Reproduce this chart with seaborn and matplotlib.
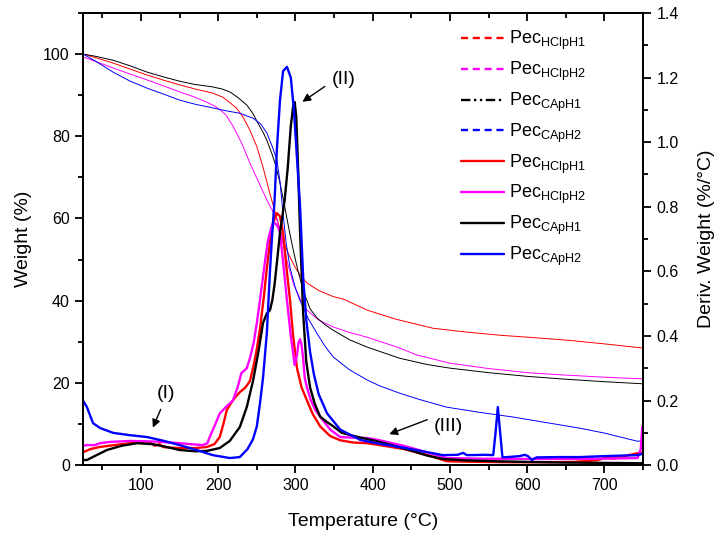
"""TGA / DTG curves of the four pectin samples."""

import matplotlib

matplotlib.use("Agg")
import matplotlib.pyplot as plt
import numpy as np
import pandas as pd
import seaborn as sns
from matplotlib.lines import Line2D
from matplotlib.ticker import MultipleLocator

# --- weight loss curves (TGA), weight in % ---
tga_black_t = [25, 40, 64, 85, 108, 130, 150, 170, 193, 205, 215, 225, 237, 245, 252, 258, 263, 270, 275,
               280, 286, 292, 297, 303, 310, 319, 328, 338, 349, 370, 393, 435, 470, 500, 550, 600, 650, 700, 749]
tga_black_w = [100, 99.5, 98.5, 97.2, 95.6, 94.4, 93.4, 92.6, 92, 91.5, 90.8, 89.5, 87.6, 85.5, 83, 81, 79,
               75.5, 72.5, 68.6, 63, 57, 52.5, 47.5, 42.5, 38, 35.8, 34.2, 32.8, 30.5, 28.7, 26, 24.5, 23.6,
               22.5, 21.6, 20.9, 20.3, 19.8]

tga_red_t = [25, 40, 64, 85, 108, 130, 150, 170, 193, 206, 215, 224, 232, 241, 250, 258, 267, 276, 285, 293,
             300, 307, 315, 330, 349, 362, 393, 430, 478, 520, 565, 610, 652, 700, 749]
tga_red_w = [100, 99.2, 97.8, 96.4, 94.9, 93.6, 92.5, 91.5, 90.5, 89.5, 88.2, 86.8, 84.7, 81.5, 77.5, 72.5,
             66, 60, 54, 50.6, 48, 46, 44.3, 42.5, 41, 40.4, 37.7, 35.5, 33.3, 32.4, 31.6, 31, 30.4, 29.5, 28.5]

tga_mag_t = [25, 40, 64, 85, 108, 130, 150, 170, 185, 195, 202, 210, 219, 230, 241, 252, 263, 270, 276, 282,
             290, 297, 306, 315, 330, 349, 370, 393, 435, 457, 500, 550, 600, 650, 700, 749]
tga_mag_w = [99.3, 98.3, 96.6, 95.2, 93.7, 92.2, 90.8, 89.5, 88.3, 87.4, 86.5, 85.2, 82.5, 78.5, 73.5, 69,
             64.5, 62, 59.6, 55.5, 49, 44.3, 40.5, 37.7, 35.3, 33.6, 32.3, 31.1, 28.5, 26.8, 24.8, 23.5, 22.5,
             21.9, 21.4, 21]

tga_blue_t = [25, 40, 64, 85, 108, 130, 150, 170, 193, 210, 228, 245, 255, 263, 270, 276, 280, 284, 288, 293,
              300, 306, 317, 328, 338, 349, 370, 393, 409, 435, 460, 496, 540, 582, 620, 668, 700, 743, 749]
tga_blue_w = [100, 98.4, 95.6, 93.5, 91.7, 90.2, 88.8, 87.8, 86.9, 86.2, 85.6, 84.4, 83, 80.8, 77.5, 74.2,
              69, 61, 54, 48, 43, 40, 35.5, 32, 29, 26.3, 23.2, 20.7, 19.3, 17.5, 16, 14.1, 12.8, 11.7, 10.5,
              9, 7.8, 5.8, 6.0]

# --- derivative curves (DTG), %/°C ---
dtg_red_t = [25, 35, 46, 65, 86, 100, 108, 112, 118, 124, 129, 140, 150, 170, 185, 195, 202, 207, 211, 216,
             222, 228, 235, 241, 246, 250, 254, 259, 263, 267, 271, 276, 280, 284, 288, 293, 297, 302, 308,
             315, 322, 332, 345, 358, 375, 393, 409, 440, 470, 496, 540, 580, 626, 660, 690, 705, 711, 725,
             743, 749]
dtg_red_v = [0.04, 0.05, 0.056, 0.062, 0.068, 0.07, 0.066, 0.07, 0.06, 0.065, 0.056, 0.054, 0.053, 0.053,
             0.056, 0.065, 0.087, 0.13, 0.17, 0.19, 0.21, 0.226, 0.24, 0.26, 0.31, 0.36, 0.42, 0.52, 0.61,
             0.69, 0.75, 0.78, 0.77, 0.72, 0.62, 0.51, 0.40, 0.30, 0.24, 0.20, 0.16, 0.12, 0.09, 0.077, 0.07,
             0.068, 0.062, 0.05, 0.032, 0.012, 0.01, 0.009, 0.009, 0.01, 0.015, 0.025, 0.02, 0.028, 0.037, 0.04]

dtg_mag_t = [25, 30, 40, 47, 60, 86, 120, 150, 180, 186, 189, 195, 202, 210, 219, 225, 230, 237, 241, 246,
             250, 254, 260, 264, 267, 270, 273, 277, 280, 284, 289, 294, 299, 302, 304, 306, 308, 310, 312,
             315, 320, 326, 332, 345, 358, 375, 393, 409, 440, 470, 496, 540, 626, 700, 743, 747, 749]
dtg_mag_v = [0.06, 0.062, 0.062, 0.068, 0.072, 0.075, 0.073, 0.068, 0.062, 0.068, 0.087, 0.12, 0.16, 0.18,
             0.2, 0.24, 0.285, 0.30, 0.33, 0.38, 0.44, 0.51, 0.62, 0.69, 0.72, 0.745, 0.75, 0.74, 0.72, 0.63,
             0.51, 0.40, 0.31, 0.34, 0.38, 0.39, 0.37, 0.33, 0.27, 0.24, 0.20, 0.17, 0.15, 0.11, 0.087, 0.085,
             0.084, 0.077, 0.06, 0.04, 0.022, 0.02, 0.019, 0.02, 0.022, 0.05, 0.12]

dtg_black_t = [25, 30, 40, 56, 75, 95, 115, 130, 150, 170, 185, 202, 215, 228, 237, 245, 252, 258, 263, 267,
               270, 273, 277, 280, 286, 290, 294, 297, 299, 301, 303, 306, 310, 314, 319, 325, 332, 340, 349,
               360, 371, 385, 400, 425, 450, 470, 491, 520, 560, 600, 650, 700, 743, 749]
dtg_black_v = [0.016, 0.016, 0.028, 0.047, 0.06, 0.068, 0.065, 0.058, 0.047, 0.043, 0.044, 0.053, 0.075,
               0.118, 0.18, 0.26, 0.35, 0.44, 0.47, 0.48, 0.51, 0.56, 0.65, 0.72, 0.82, 0.92, 1.05, 1.11, 1.124,
               1.08, 0.95, 0.72, 0.47, 0.32, 0.24, 0.19, 0.15, 0.135, 0.12, 0.10, 0.093, 0.085, 0.077, 0.062,
               0.045, 0.03, 0.019, 0.015, 0.012, 0.01, 0.008, 0.007, 0.006, 0.006]

dtg_blue_t = [25, 30, 38, 47, 64, 85, 108, 130, 150, 172, 193, 215, 228, 238, 245, 250, 254, 258, 263, 267,
              270, 273, 276, 280, 284, 289, 294, 298, 302, 306, 310, 314, 319, 324, 330, 341, 358, 384, 409,
              435, 460, 491, 510, 517, 522, 545, 556, 559, 562, 565, 568, 580, 590, 597, 601, 606, 612, 640,
              668, 700, 743, 749]
dtg_blue_v = [0.20, 0.18, 0.13, 0.115, 0.10, 0.093, 0.087, 0.075, 0.062, 0.047, 0.031, 0.022, 0.025, 0.05,
              0.08, 0.12, 0.19, 0.27, 0.41, 0.60, 0.72, 0.82, 0.98, 1.13, 1.22, 1.233, 1.20, 1.10, 0.95, 0.80,
              0.58, 0.45, 0.35, 0.28, 0.22, 0.16, 0.11, 0.078, 0.066, 0.056, 0.045, 0.031, 0.032, 0.038, 0.031,
              0.032, 0.031, 0.10, 0.18, 0.10, 0.024, 0.026, 0.028, 0.032, 0.028, 0.016, 0.024, 0.025, 0.025,
              0.028, 0.031, 0.035]

labels = ["Pec$_{\\mathrm{HClpH1}}$", "Pec$_{\\mathrm{HClpH2}}$",
          "Pec$_{\\mathrm{CApH1}}$", "Pec$_{\\mathrm{CApH2}}$"]
colors = ["#ff0000", "#ff00ff", "#000000", "#0000ff"]

sns.set_style("ticks")
plt.rcParams["font.family"] = ["Liberation Sans", "DejaVu Sans"]
plt.rcParams["mathtext.fontset"] = "custom"
plt.rcParams["mathtext.rm"] = "Liberation Sans"
plt.rcParams["mathtext.it"] = "Liberation Sans:italic"
plt.rcParams["axes.linewidth"] = 1.3
for key in ("text.color", "axes.labelcolor", "xtick.color", "ytick.color", "axes.edgecolor"):
    plt.rcParams[key] = "black"

fig = plt.figure(figsize=(7.25, 5.39), dpi=100)
ax = fig.add_axes([0.1145, 0.137, 0.7725, 0.839])
ax2 = ax.twinx()

tga = [(tga_red_t, tga_red_w), (tga_mag_t, tga_mag_w), (tga_black_t, tga_black_w), (tga_blue_t, tga_blue_w)]
dtg = [(dtg_red_t, dtg_red_v), (dtg_mag_t, dtg_mag_v), (dtg_black_t, dtg_black_v), (dtg_blue_t, dtg_blue_v)]

for (t, w), c in zip(tga, colors):
    df = pd.DataFrame({"T": t, "w": w})
    sns.lineplot(data=df, x="T", y="w", ax=ax, color=c, lw=0.7, estimator=None, sort=False)
for (t, v), c in zip(dtg, colors):
    df = pd.DataFrame({"T": t, "v": v})
    sns.lineplot(data=df, x="T", y="v", ax=ax2, color=c, lw=1.7, estimator=None, sort=False)

ax.set_xlim(25, 750)
ax.set_ylim(0, 110)
ax2.set_ylim(0, 1.4)

ax.xaxis.set_major_locator(MultipleLocator(100))
ax.xaxis.set_minor_locator(MultipleLocator(50))
ax.yaxis.set_major_locator(MultipleLocator(20))
ax.yaxis.set_minor_locator(MultipleLocator(10))
ax2.yaxis.set_major_locator(MultipleLocator(0.2))
ax2.yaxis.set_minor_locator(MultipleLocator(0.1))
ax2.yaxis.set_major_formatter(matplotlib.ticker.FormatStrFormatter("%.1f"))

for a in (ax, ax2):
    a.tick_params(which="major", direction="out", length=6, width=1.3, labelsize=11.5)
    a.tick_params(which="minor", direction="out", length=3.5, width=1.3)

top = ax.secondary_xaxis("top")
top.xaxis.set_major_locator(MultipleLocator(100))
top.xaxis.set_minor_locator(MultipleLocator(50))
top.tick_params(which="major", direction="in", length=6, width=1.3, labeltop=False)
top.tick_params(which="minor", direction="in", length=3.5, width=1.3)

ax.set_xlabel("Temperature (°C)", fontsize=14, labelpad=14)
ax.set_ylabel("Weight (%)", fontsize=14, labelpad=8)
ax2.set_ylabel("Deriv. Weight (%/°C)", fontsize=14, labelpad=14)

# annotations for the three decomposition stages
arrow = dict(arrowstyle="-|>", color="black", lw=1, mutation_scale=12)
ax.text(133, 17.5, "(I)", ha="center", va="center", fontsize=14)
ax.annotate("", xy=(114, 8.5), xytext=(127, 14.2), arrowprops=arrow)
ax.text(362, 93.8, "(II)", ha="center", va="center", fontsize=14)
ax.annotate("", xy=(306, 88), xytext=(341, 92.5), arrowprops=arrow)
ax.text(498, 9.3, "(III)", ha="center", va="center", fontsize=14)
ax.annotate("", xy=(418, 7.3), xytext=(474, 11.3), arrowprops=arrow)

handles = [Line2D([], [], color=c, lw=1.7, ls=(0, (3, 2))) for c in colors]
handles[2] = Line2D([], [], color="black", lw=1.7, ls=(0, (4, 1.5, 1, 1.5, 1, 1.5)))
handles += [Line2D([], [], color=c, lw=1.7) for c in colors]
ax2.legend(handles, labels + labels, loc="upper left", bbox_to_anchor=(0.645, 1.0),
           frameon=False, fontsize=13, handlelength=2.4, labelspacing=0.42, handletextpad=0.3)

fig.savefig("out.png", dpi=100)
